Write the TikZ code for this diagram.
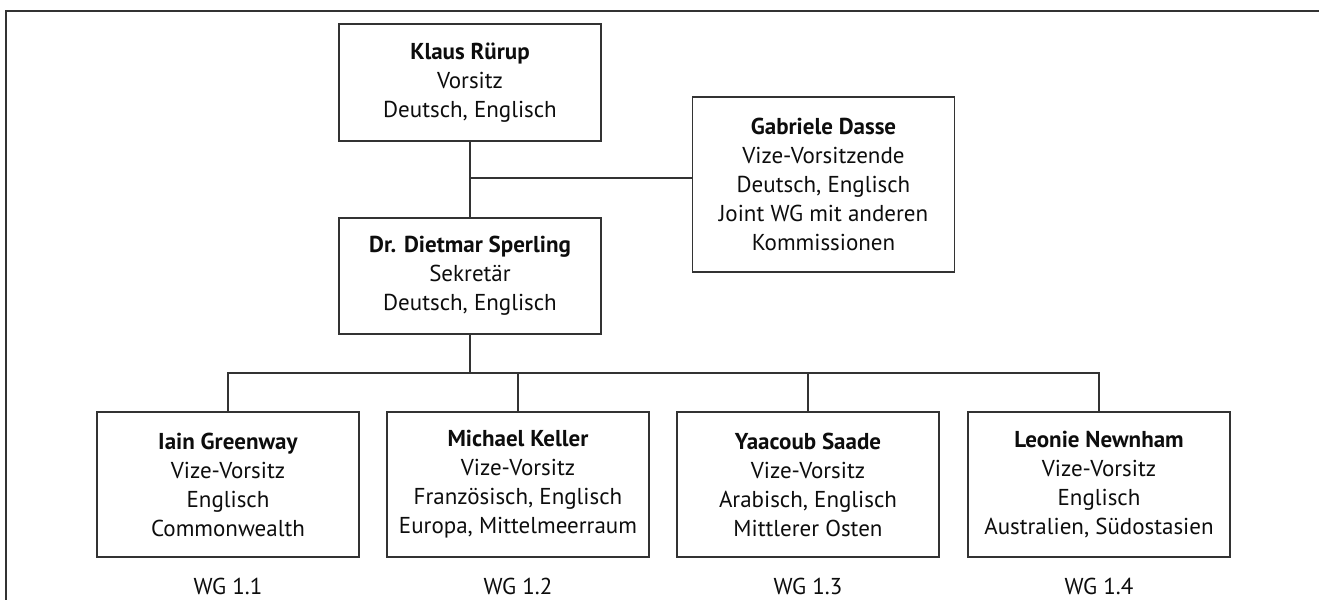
\documentclass[tikz,border=0pt]{standalone}
\usepackage{fontspec}
\setmainfont{PT Sans}
\usepackage{tikz}
\usetikzlibrary{positioning, calc}

\begin{document}
\begin{tikzpicture}[
      x=0.5pt, y=-0.5pt,
      member/.style={rectangle, draw=black!80, line width=0.6pt, minimum width=131pt, inner sep=0pt, align=center, font=\fontsize{11.5}{14.5}\selectfont, text=black!95},
      wglabel/.style={anchor=base, inner sep=0pt, font=\fontsize{11.5}{14.5}\selectfont, text=black!95},
      line/.style={draw=black!80, line width=0.6pt}
      ]

      \useasboundingbox (0,0) rectangle (1319,600);

      % Frame
      \draw[line width=1pt, black!80] (6,600) -- (6,11) -- (1319,11);

      % Top
      \node[member, minimum height=58.5pt] (ruerup) at (470,82.5) {\textbf{Klaus Rürup}\\Vorsitz\\Deutsch, Englisch};
      \node[member, minimum height=58pt] (sperling) at (470,276) {\textbf{Dr. Dietmar Sperling}\\Sekretär\\Deutsch, Englisch};
      \node[member, minimum height=87.5pt] (dasse) at (823.5,184.5) {\textbf{Gabriele Dasse}\\Vize-Vorsitzende\\Deutsch, Englisch\\Joint WG mit anderen\\Kommissionen};

      % Working groups
      \node[member, minimum height=72.5pt] (wg1) at (228,484.5) {\textbf{Iain Greenway}\\Vize-Vorsitz\\Englisch\\Commonwealth};
      \node[member, minimum height=72.5pt] (wg2) at (518,484.5) {\textbf{Michael Keller}\\Vize-Vorsitz\\Französisch, Englisch\\Europa, Mittelmeerraum};
      \node[member, minimum height=72.5pt] (wg3) at (808,484.5) {\textbf{Yaacoub Saade}\\Vize-Vorsitz\\Arabisch, Englisch\\Mittlerer Osten};
      \node[member, minimum height=72.5pt] (wg4) at (1099,484.5) {\textbf{Leonie Newnham}\\Vize-Vorsitz\\Englisch\\Australien, Südostasien};

      % Labels
      \node[wglabel] (lab1) at (228,594) {WG 1.1};
      \node[wglabel] (lab2) at (518,594) {WG 1.2};
      \node[wglabel] (lab3) at (808,594) {WG 1.3};
      \node[wglabel] (lab4) at (1099,594) {WG 1.4};

      % Lines
      \coordinate (vice) at (470,178);
      \coordinate (bus) at (470,373);
      \draw[line] (ruerup) -- (sperling);
      \draw[line] (vice) -- (vice -| dasse.west);
      \draw[line] (sperling) -- (bus);
      \draw[line] (wg1.north) -- (wg1.north |- bus) -- (wg4.north |- bus) -- (wg4.north);
      \draw[line] (wg2.north) -- (wg2.north |- bus);
      \draw[line] (wg3.north) -- (wg3.north |- bus);

   \end{tikzpicture}
\end{document}
